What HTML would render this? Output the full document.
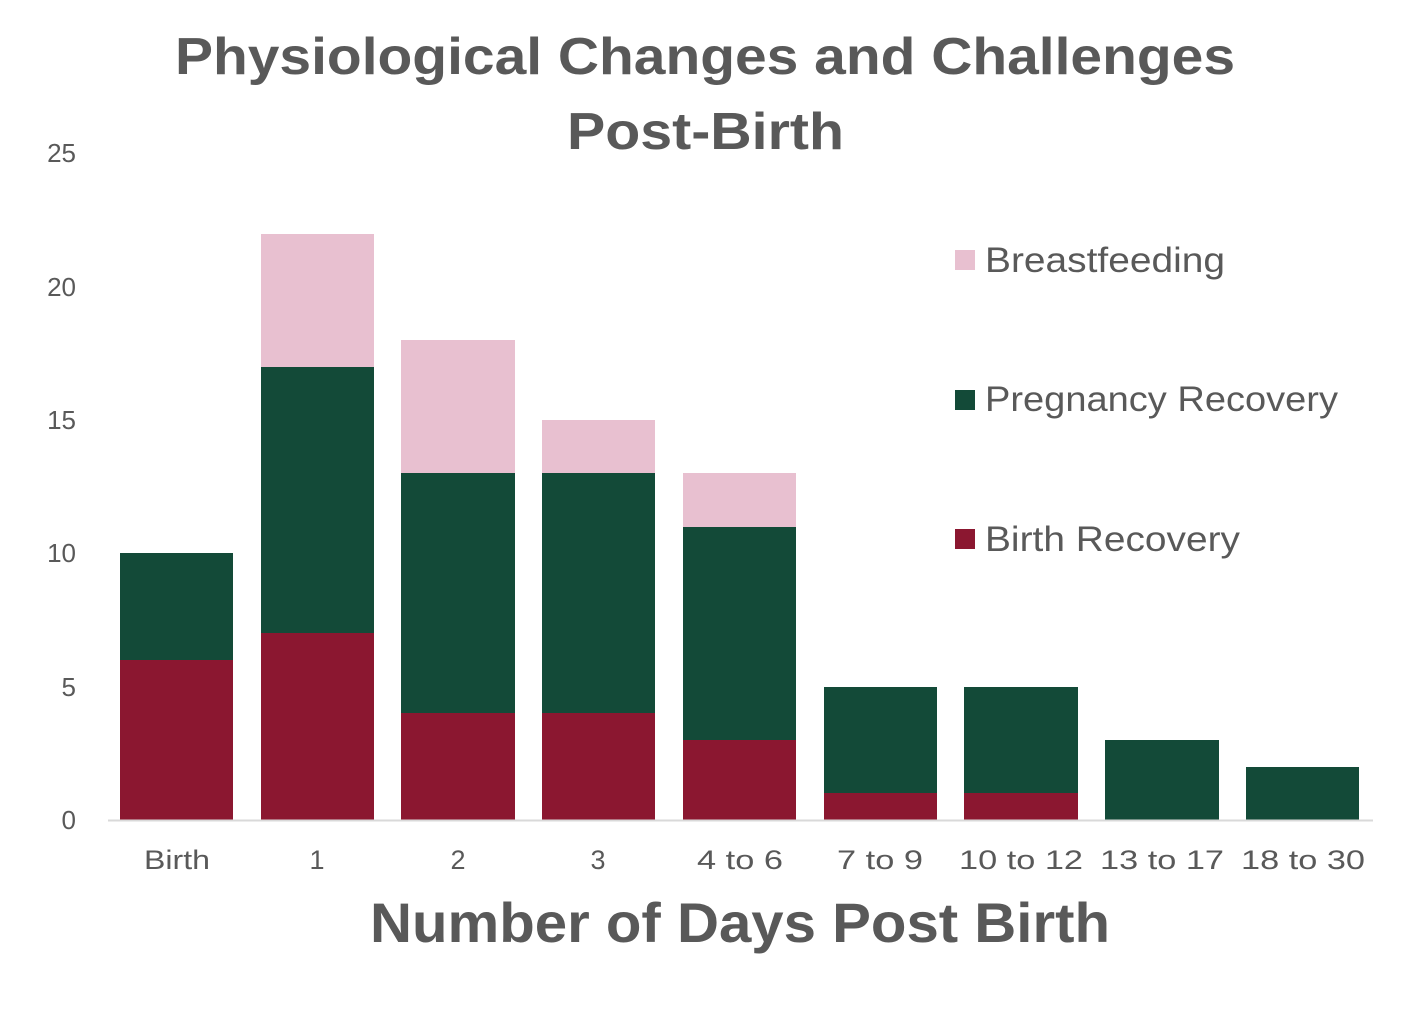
<!DOCTYPE html>
<html><head><meta charset="utf-8"><style>body{margin:0;background:#fff}</style></head>
<body>
<svg width="1410" height="1025" viewBox="0 0 1410 1025" xmlns="http://www.w3.org/2000/svg" font-family="'Liberation Sans', sans-serif" fill="#595959">
<rect width="1410" height="1025" fill="#fff"/>
<text x="175" y="74" font-size="52" font-weight="bold" textLength="1060" lengthAdjust="spacingAndGlyphs">Physiological Changes and Challenges</text>
<text x="567" y="149" font-size="52" font-weight="bold" textLength="277" lengthAdjust="spacingAndGlyphs">Post-Birth</text>
<g font-size="26" text-anchor="end">
<text x="76" y="829">0</text>
<text x="76" y="696">5</text>
<text x="76" y="562">10</text>
<text x="76" y="429">15</text>
<text x="76" y="296">20</text>
<text x="76" y="162">25</text>
</g>
<g>
<rect x="120" y="660" width="113" height="160" fill="#8b1730"/>
<rect x="120" y="553" width="113" height="107" fill="#134a38"/>
<rect x="261" y="633" width="113" height="187" fill="#8b1730"/>
<rect x="261" y="367" width="113" height="266" fill="#134a38"/>
<rect x="261" y="234" width="113" height="133" fill="#e8c0d0"/>
<rect x="401" y="713" width="114" height="107" fill="#8b1730"/>
<rect x="401" y="473" width="114" height="240" fill="#134a38"/>
<rect x="401" y="340" width="114" height="133" fill="#e8c0d0"/>
<rect x="542" y="713" width="113" height="107" fill="#8b1730"/>
<rect x="542" y="473" width="113" height="240" fill="#134a38"/>
<rect x="542" y="420" width="113" height="53" fill="#e8c0d0"/>
<rect x="683" y="740" width="113" height="80" fill="#8b1730"/>
<rect x="683" y="527" width="113" height="213" fill="#134a38"/>
<rect x="683" y="473" width="113" height="54" fill="#e8c0d0"/>
<rect x="824" y="793" width="113" height="27" fill="#8b1730"/>
<rect x="824" y="687" width="113" height="106" fill="#134a38"/>
<rect x="964" y="793" width="114" height="27" fill="#8b1730"/>
<rect x="964" y="687" width="114" height="106" fill="#134a38"/>
<rect x="1105" y="740" width="114" height="80" fill="#134a38"/>
<rect x="1246" y="767" width="113" height="53" fill="#134a38"/>
</g>
<line x1="108" y1="820.5" x2="1373" y2="820.5" stroke="#d9d9d9" stroke-width="2"/>
<g font-size="27" text-anchor="middle">
<text x="177" y="869" textLength="66" lengthAdjust="spacingAndGlyphs">Birth</text>
<text x="317" y="869">1</text>
<text x="458" y="869">2</text>
<text x="598" y="869">3</text>
<text x="740" y="869" textLength="86" lengthAdjust="spacingAndGlyphs">4 to 6</text>
<text x="880" y="869" textLength="86" lengthAdjust="spacingAndGlyphs">7 to 9</text>
<text x="1021" y="869" textLength="124" lengthAdjust="spacingAndGlyphs">10 to 12</text>
<text x="1162" y="869" textLength="124" lengthAdjust="spacingAndGlyphs">13 to 17</text>
<text x="1303" y="869" textLength="124" lengthAdjust="spacingAndGlyphs">18 to 30</text>
</g>
<text x="370" y="942" font-size="56" font-weight="bold" textLength="740" lengthAdjust="spacingAndGlyphs">Number of Days Post Birth</text>
<rect x="955" y="250" width="20" height="20" fill="#e8c0d0"/>
<text x="985" y="272" font-size="35" textLength="240" lengthAdjust="spacingAndGlyphs">Breastfeeding</text>
<rect x="955" y="390" width="20" height="20" fill="#134a38"/>
<text x="985" y="411" font-size="35" textLength="353" lengthAdjust="spacingAndGlyphs">Pregnancy Recovery</text>
<rect x="955" y="529" width="20" height="20" fill="#8b1730"/>
<text x="985" y="551" font-size="35" textLength="255" lengthAdjust="spacingAndGlyphs">Birth Recovery</text>
</svg>
</body></html>
